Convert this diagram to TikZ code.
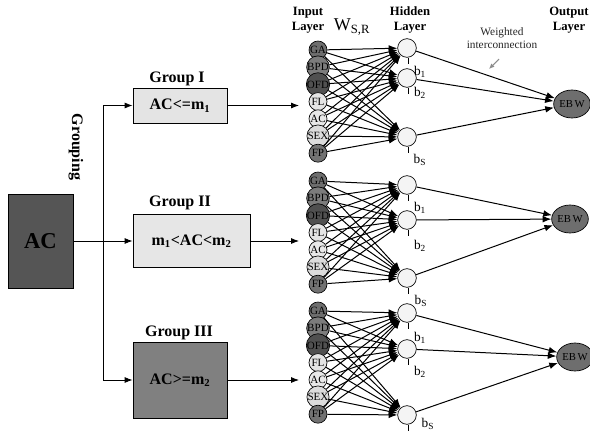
\documentclass[tikz,border=0pt]{standalone}
\usepackage{fontspec}
\setmainfont{Liberation Serif}
\usetikzlibrary{arrows.meta,shapes.geometric}
\definecolor{acdark}{HTML}{555555}
\definecolor{gone}{HTML}{E4E4E4}
\definecolor{gtwo}{HTML}{E6E6E6}
\definecolor{gthree}{HTML}{808080}
\definecolor{cGA}{HTML}{6E6E6E}
\definecolor{cBPD}{HTML}{7C7C7C}
\definecolor{cOFD}{HTML}{505050}
\definecolor{cFL}{HTML}{E4E4E4}
\definecolor{cAC}{HTML}{E8E8E8}
\definecolor{cSEX}{HTML}{DCDCDC}
\definecolor{cFP}{HTML}{727272}
\definecolor{hidfill}{HTML}{F4F4F4}
\definecolor{outfill}{HTML}{6E6E6E}
\newcommand{\drawnet}[7]{%
  \foreach \lab/\col [count=\i] in {GA/cGA,BPD/cBPD,OFD/cOFD,FL/cFL,AC/cAC,SEX/cSEX,FP/cFP}
    \node[inp,fill=\col] (#1i\i) at (318,{#2+17.2*(\i-1)}) {\lab};
  \node[hid] (#1h1) at (407,#3) {};
  \node[hid] (#1h2) at (407,#4) {};
  \node[hid] (#1h3) at (407,#5) {};
  \node[outn] (#1o) at (#6,#7) {EB\,W};
  \foreach \i in {1,...,7}{\foreach \j in {1,2,3}{\draw[conn] (#1i\i) -- (#1h\j);}}
  \foreach \j in {1,2,3}{\draw[conn] (#1h\j) -- (#1o);}
  \foreach \j in {1,2,3}{\draw[line width=0.5pt] ([xshift=1pt]#1h\j.south) -- ++(0,6);}
}
\begin{document}
\begin{tikzpicture}[x=0.75pt,y=-0.75pt,
  conn/.style={-{Latex[length=6.5pt,width=5pt]}, line width=0.75pt},
  inp/.style={circle,draw,line width=0.5pt,minimum size=13.5pt,inner sep=0pt,font=\fontsize{8.3}{8.3}\selectfont},
  hid/.style={circle,draw,line width=0.5pt,minimum size=14pt,inner sep=0pt,fill=hidfill},
  outn/.style={ellipse,draw,line width=0.5pt,minimum width=27.5pt,minimum height=21pt,inner sep=0pt,fill=outfill,font=\fontsize{8}{8}\selectfont},
  grp/.style={draw,line width=0.6pt,inner sep=0pt,font=\bfseries\fontsize{12}{12}\selectfont},
  lbl/.style={font=\bfseries\fontsize{12}{12}\selectfont},
  head/.style={font=\bfseries\fontsize{9.5}{11}\selectfont,align=center},
  bias/.style={font=\fontsize{10}{10}\selectfont,inner sep=0pt},
  feed/.style={-{Latex[length=6pt,width=4.5pt]},line width=0.6pt}
]
\useasboundingbox (0,0) rectangle (590,433);
% left part
\node[grp,fill=acdark,minimum width=48.75pt,minimum height=70.5pt,font=\bfseries\fontsize{17}{17}\selectfont] (acbox) at (40.5,241) {AC};
\node[grp,fill=gone,minimum width=70.5pt,minimum height=26.25pt] (g1) at (180,105.5) {AC<=m\textsubscript{1}};
\node[grp,fill=gtwo,minimum width=87.75pt,minimum height=39.75pt] (g2) at (191.5,241) {m\textsubscript{1}<AC<m\textsubscript{2}};
\node[grp,fill=gthree,minimum width=70.5pt,minimum height=57pt] (g3) at (180,380) {AC>=m\textsubscript{2}};
\node[lbl] (l1) at (177,79) {Group I};
\node[lbl] (l2) at (180,203) {Group II};
\node[lbl] (l3) at (179,333) {Group III};
\node[lbl,rotate=-90] (grouping) at (76,147) {Grouping};
\coordinate (vtop) at (103,105.5);
\coordinate (vbot) at (103,380);
\draw[line width=0.6pt] (vtop) -- (vbot);
\draw[feed] (vtop) -- (g1.west);
\draw[feed] (vbot) -- (g3.west);
\draw[feed] (acbox.east) -- (g2.west);
\coordinate (e1) at (299,105.5);
\coordinate (e2) at (299,241);
\coordinate (e3) at (299,380);
\draw[feed] (g1.east) -- (e1);
\draw[feed] (g2.east) -- (e2);
\draw[feed] (g3.east) -- (e3);
% networks
\drawnet{a}{50}{48}{78}{137}{572}{104}
\drawnet{b}{181}{185}{220}{278}{570}{219}
\drawnet{c}{311}{313}{349}{415}{575}{357}
% bias labels
\node[bias] (ab1) at (420,72) {b\textsubscript{1}};
\node[bias] (ab2) at (420,93) {b\textsubscript{2}};
\node[bias] (ab3) at (420,160) {b\textsubscript{S}};
\node[bias] (bb1) at (420,208) {b\textsubscript{1}};
\node[bias] (bb2) at (420,246) {b\textsubscript{2}};
\node[bias] (bb3) at (421,301) {b\textsubscript{S}};
\node[bias] (cb1) at (420,338) {b\textsubscript{1}};
\node[bias] (cb2) at (420,372) {b\textsubscript{2}};
\node[bias] (cb3) at (428,424) {b\textsubscript{S}};
% headers
\node[head] (hin) at (308,20) {Input\\Layer};
\node[head] (hhid) at (410,20) {Hidden\\Layer};
\node[head,inner sep=0pt] (hout) at (569,20) {Output\\Layer};
\node[font=\fontsize{13.5}{13.5}\selectfont] (wsr) at (352,27) {W\textsubscript{S,R}};
\node[font=\fontsize{8.5}{10}\selectfont,align=center,text=black!85] (wi) at (502,38) {Weighted\\interconnection};
\coordinate (wa) at (499,59);
\coordinate (wb) at (489,69);
\draw[-{Latex[length=4pt,width=3.5pt]},line width=0.8pt,draw=black!45] (wa) -- (wb);
\end{tikzpicture}
\end{document}
